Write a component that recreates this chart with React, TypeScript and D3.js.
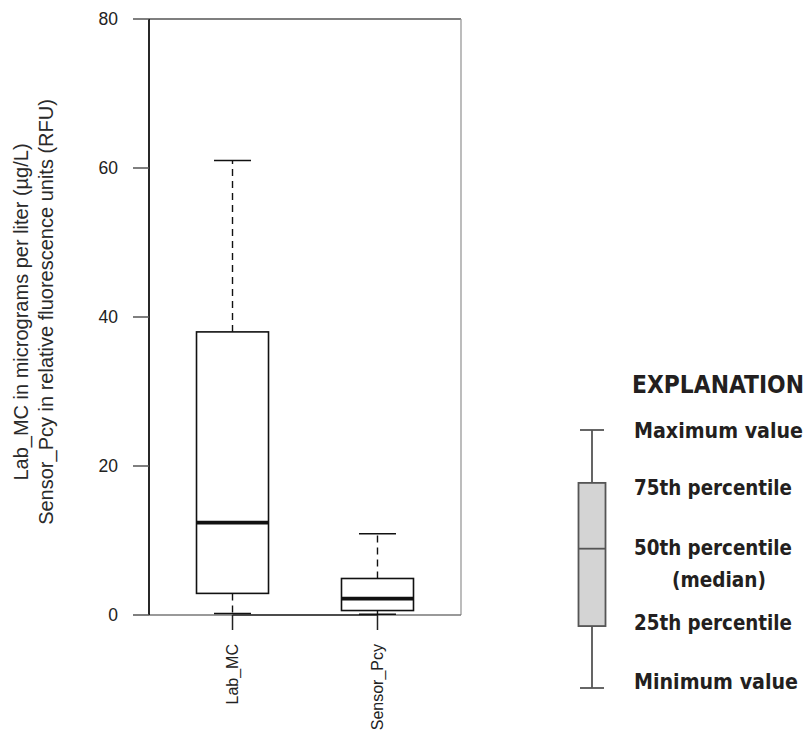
import React from "react";
import * as d3 from "d3";

// Box-plot statistics per group: minimum, 25th, median, 75th, maximum
const groups = ["Lab_MC", "Sensor_Pcy"];
const minValues = [0.2, 0.1];
const q1Values = [2.9, 0.6];
const medianValues = [12.4, 2.2];
const q3Values = [38.0, 4.9];
const maxValues = [61.0, 10.9];

const yTicks = [0, 20, 40, 60, 80];

const yLabelLines = [
  "Lab_MC in micrograms per liter (\u00b5g/L)",
  "Sensor_Pcy in relative fluorescence units (RFU)",
];

// Schematic box used in the explanation, on a 0-100 scale
const keyStats = { min: 0, q1: 24, median: 54, q3: 79.5, max: 100 };
const keyLabels = [
  { text: "Maximum value", key: "max", len: 169 },
  { text: "75th percentile", key: "q3", len: 158 },
  { text: "50th percentile", key: "median", len: 158 },
  { text: "25th percentile", key: "q1", len: 158 },
  { text: "Minimum value", key: "min", len: 164 },
];

const W = 812;
const H = 733;
const plot = { left: 149, right: 461, top: 19, bottom: 615 };

export default function App() {
  const y = d3.scaleLinear().domain([0, 80]).range([plot.bottom, plot.top]);
  const x = d3
    .scalePoint<string>()
    .domain(groups)
    .range([plot.left, plot.right])
    .padding(0.576);

  const boxHalf = 36;
  const capHalf = 18.5;

  const legendFont =
    "'Liberation Sans Narrow', 'DejaVu Sans Condensed', 'Arial Narrow', sans-serif";
  const keyY = d3.scaleLinear().domain([0, 100]).range([688, 430]);
  const keyX = 592;
  const keyBoxHalf = 13.5;
  const keyCapHalf = 12;
  const labelBaselines: Record<string, number> = {
    max: 438,
    q3: 495,
    median: 555,
    q1: 630,
    min: 689,
  };

  return (
    <svg
      width={W}
      height={H}
      style={{ position: "absolute", left: 0, top: 0, background: "#fff" }}
      fontFamily="'Liberation Sans', Arial, sans-serif"
    >
      {/* plot frame */}
      <line x1={plot.left} x2={plot.right} y1={plot.top} y2={plot.top} stroke="#555" strokeWidth={1.5} />
      <line x1={plot.right} x2={plot.right} y1={plot.top} y2={plot.bottom} stroke="#999" strokeWidth={1.3} />
      <line x1={plot.left} x2={plot.right} y1={plot.bottom} y2={plot.bottom} stroke="#777" strokeWidth={1.5} />

      {/* y axis */}
      <line x1={plot.left} x2={plot.left} y1={y(80)} y2={y(0)} stroke="#111" strokeWidth={1.8} />
      {yTicks.map((t) => (
        <g key={t}>
          <line x1={plot.left - 16} x2={plot.left} y1={y(t)} y2={y(t)} stroke="#555" strokeWidth={1.5} />
          <text x={118} y={y(t)} dy="0.36em" textAnchor="end" fontSize={17.5} fill="#222">
            {t}
          </text>
        </g>
      ))}

      {/* y axis title */}
      {yLabelLines.map((line, i) => (
        <text
          key={i}
          transform={`translate(${28 + i * 25},${312}) rotate(-90)`}
          textAnchor="middle"
          fontSize={20}
          fill="#2a2a2a"
        >
          {line}
        </text>
      ))}

      {/* x axis */}
      <line
        x1={x(groups[0])}
        x2={x(groups[groups.length - 1])}
        y1={plot.bottom}
        y2={plot.bottom}
        stroke="#333"
        strokeWidth={1.5}
      />
      {groups.map((g) => (
        <g key={g}>
          <line x1={x(g)} x2={x(g)} y1={plot.bottom} y2={plot.bottom + 15} stroke="#222" strokeWidth={1.5} />
          <text
            transform={`translate(${(x(g) as number) + 5.5},${plot.bottom + 29}) rotate(-90)`}
            textAnchor="end"
            fontSize={16}
            fill="#222"
          >
            {g}
          </text>
        </g>
      ))}

      {/* boxes */}
      {groups.map((g, i) => {
        const cx = x(g) as number;
        return (
          <g key={g} stroke="#111">
            <line x1={cx} x2={cx} y1={y(q3Values[i])} y2={y(maxValues[i])} strokeWidth={1.4} strokeDasharray="7,5" />
            <line x1={cx} x2={cx} y1={y(q1Values[i])} y2={y(minValues[i])} strokeWidth={1.4} strokeDasharray="7,5" />
            <line x1={cx - capHalf} x2={cx + capHalf} y1={y(maxValues[i])} y2={y(maxValues[i])} strokeWidth={1.5} />
            <line x1={cx - capHalf} x2={cx + capHalf} y1={y(minValues[i])} y2={y(minValues[i])} strokeWidth={1.5} />
            <rect
              x={cx - boxHalf}
              y={y(q3Values[i])}
              width={boxHalf * 2}
              height={y(q1Values[i]) - y(q3Values[i])}
              fill="#fff"
              strokeWidth={1.6}
            />
            <line
              x1={cx - boxHalf}
              x2={cx + boxHalf}
              y1={y(medianValues[i])}
              y2={y(medianValues[i])}
              strokeWidth={3.6}
            />
          </g>
        );
      })}

      {/* explanation */}
      <text
        x={632}
        y={393}
        fontFamily={legendFont}
        fontWeight="bold"
        fontSize={25}
        fill="#231f20"
        textLength={172}
        lengthAdjust="spacingAndGlyphs"
      >
        EXPLANATION
      </text>
      <g stroke="#555" strokeWidth={1.8}>
        <line x1={keyX} x2={keyX} y1={keyY(keyStats.max)} y2={keyY(keyStats.min)} />
        <line x1={keyX - keyCapHalf} x2={keyX + keyCapHalf} y1={keyY(keyStats.max)} y2={keyY(keyStats.max)} />
        <line x1={keyX - keyCapHalf} x2={keyX + keyCapHalf} y1={keyY(keyStats.min)} y2={keyY(keyStats.min)} />
        <rect
          x={keyX - keyBoxHalf}
          y={keyY(keyStats.q3)}
          width={keyBoxHalf * 2}
          height={keyY(keyStats.q1) - keyY(keyStats.q3)}
          fill="#d4d4d4"
        />
        <line
          x1={keyX - keyBoxHalf}
          x2={keyX + keyBoxHalf}
          y1={keyY(keyStats.median)}
          y2={keyY(keyStats.median)}
        />
      </g>
      {keyLabels.map((l) => (
        <text
          key={l.key}
          x={634}
          y={labelBaselines[l.key]}
          fontFamily={legendFont}
          fontWeight="bold"
          fontSize={22}
          fill="#231f20"
          textLength={l.len}
          lengthAdjust="spacingAndGlyphs"
        >
          {l.text}
        </text>
      ))}
      <text
        x={719}
        y={587}
        textAnchor="middle"
        fontFamily={legendFont}
        fontWeight="bold"
        fontSize={22}
        fill="#231f20"
        textLength={94}
        lengthAdjust="spacingAndGlyphs"
      >
        (median)
      </text>
    </svg>
  );
}
